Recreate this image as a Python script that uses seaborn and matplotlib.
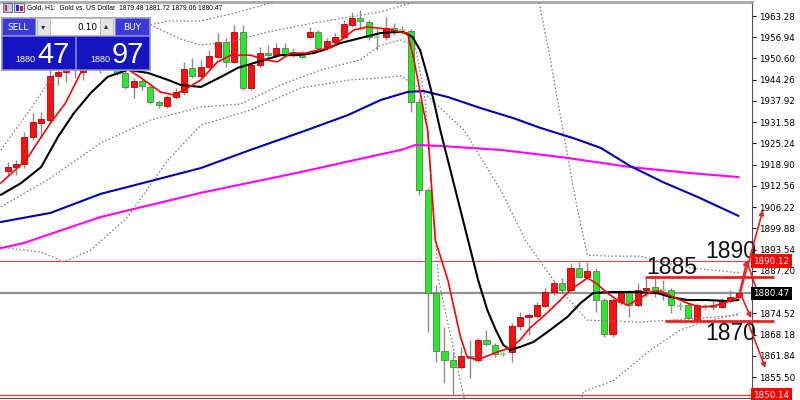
import numpy as np
import pandas as pd
import seaborn as sns
import matplotlib.pyplot as plt
from matplotlib.patches import Rectangle

# H1 candles, bar 0 = left edge of the chart, bar 87 = current bar
opens = [1917.0, 1918.2, 1919.1, 1927.2, 1931.3, 1932.2, 1945.4, 1946.6, 1947.2, 1946.6,
         1947.5, 1949.6, 1949.0, 1950.7, 1946.3, 1942.1, 1943.9, 1942.1, 1937.6, 1936.4,
         1939.1, 1940.6, 1947.8, 1945.4, 1948.1, 1951.0, 1955.5, 1949.6, 1958.5, 1941.8,
         1948.7, 1952.2, 1951.6, 1953.7, 1952.2, 1952.2, 1957.0, 1958.5, 1954.0, 1955.5,
         1957.0, 1960.6, 1962.7, 1961.5, 1957.0, 1957.0, 1959.7, 1959.1, 1958.8, 1937.6,
         1911.3, 1880.6, 1863.3, 1860.6, 1858.5, 1861.8, 1860.6, 1866.6, 1865.1, 1862.4,
         1863.0, 1870.7, 1873.4, 1873.7, 1876.7, 1880.9, 1883.6, 1881.5, 1888.1, 1885.4,
         1887.2, 1878.5, 1868.4, 1877.9, 1880.6, 1877.0, 1881.5, 1882.4, 1881.5, 1881.5,
         1876.7, 1877.0, 1872.5, 1876.7, 1877.0, 1876.4, 1878.5, 1879.48]
highs = [1919.7, 1920.3, 1928.7, 1934.3, 1934.6, 1947.2, 1948.4, 1949.0, 1949.0, 1949.6,
         1951.6, 1951.6, 1952.5, 1951.6, 1947.2, 1944.8, 1944.5, 1942.7, 1938.2, 1939.7,
         1941.8, 1949.6, 1950.7, 1950.2, 1953.1, 1958.2, 1956.7, 1960.6, 1960.6, 1949.3,
         1954.0, 1954.6, 1955.2, 1955.2, 1953.7, 1952.8, 1960.0, 1959.1, 1956.7, 1958.2,
         1962.1, 1964.5, 1965.1, 1962.1, 1960.0, 1963.0, 1961.2, 1960.3, 1959.4, 1938.8,
         1911.9, 1883.0, 1870.4, 1863.0, 1864.5, 1866.6, 1867.2, 1869.6, 1865.7, 1863.0,
         1871.7, 1874.9, 1874.6, 1877.9, 1882.1, 1884.5, 1885.1, 1889.6, 1889.9, 1889.9,
         1888.1, 1879.1, 1879.1, 1881.5, 1881.5, 1883.6, 1885.1, 1885.1, 1884.5, 1882.1,
         1877.9, 1877.6, 1877.6, 1877.3, 1878.5, 1879.1, 1881.5, 1881.72]
lows = [1915.5, 1915.8, 1917.9, 1926.3, 1926.9, 1931.6, 1942.7, 1943.6, 1944.8, 1944.2,
        1947.2, 1946.3, 1948.4, 1945.7, 1941.5, 1938.8, 1941.2, 1937.0, 1935.8, 1935.8,
        1938.5, 1939.7, 1944.8, 1944.8, 1947.8, 1950.7, 1948.1, 1949.3, 1941.2, 1941.2,
        1948.1, 1950.7, 1951.0, 1951.0, 1951.0, 1950.7, 1956.7, 1953.1, 1953.1, 1954.6,
        1956.7, 1960.0, 1959.1, 1956.1, 1953.1, 1956.1, 1957.6, 1957.9, 1934.6, 1909.9,
        1868.9, 1860.0, 1853.7, 1850.14, 1857.9, 1855.2, 1860.0, 1864.8, 1861.5, 1861.8,
        1860.0, 1869.6, 1868.1, 1873.1, 1876.4, 1880.0, 1880.6, 1880.9, 1885.1, 1884.8,
        1874.9, 1867.5, 1867.5, 1877.0, 1873.4, 1876.4, 1879.4, 1879.4, 1878.5, 1874.6,
        1875.5, 1872.5, 1871.9, 1875.8, 1875.5, 1876.1, 1877.6, 1879.06]
closes = [1918.2, 1919.1, 1927.2, 1931.6, 1932.5, 1945.4, 1946.6, 1947.2, 1946.9, 1947.5,
          1949.6, 1949.0, 1950.7, 1946.3, 1942.1, 1943.9, 1942.4, 1937.6, 1936.7, 1939.1,
          1940.6, 1947.5, 1945.4, 1948.1, 1951.3, 1955.5, 1949.6, 1958.5, 1941.8, 1948.7,
          1952.2, 1951.6, 1953.7, 1951.6, 1952.5, 1951.0, 1958.5, 1953.7, 1955.8, 1957.0,
          1960.9, 1962.7, 1961.8, 1957.0, 1956.7, 1959.7, 1958.5, 1958.8, 1937.6, 1911.3,
          1880.6, 1863.3, 1860.6, 1858.5, 1861.8, 1861.2, 1866.6, 1865.4, 1862.4, 1862.2,
          1870.7, 1873.4, 1874.0, 1877.0, 1880.9, 1883.6, 1881.5, 1888.1, 1885.4, 1887.2,
          1878.5, 1868.4, 1878.5, 1880.6, 1877.0, 1881.5, 1882.1, 1881.5, 1881.2, 1877.0,
          1876.6, 1873.1, 1877.0, 1876.6, 1876.4, 1878.5, 1879.4, 1880.47]

# indicator lines (bar position, price)
red_x = [-0.8, 2.2, 5.1, 6.9, 8.7, 11.1, 13.5, 15.9, 18.2, 19.8, 21.4, 23.0, 25.0, 26.6,
         28.9, 30.7, 32.1, 33.7, 35.5, 36.9, 38.4, 40.0, 41.2, 42.8, 45.2, 46.8, 47.6, 48.3,
         48.9, 49.5, 50.0, 50.9, 52.4, 53.9, 54.7, 55.9, 58.3, 59.8, 61.0, 62.2, 64.2, 65.8,
         67.0, 68.2, 69.0, 70.0, 71.4, 72.9, 73.8, 75.3, 76.5, 77.7, 79.2, 80.9, 82.4, 84.0,
         85.6, 87.0]
red_y = [1913.4, 1920.3, 1931.3, 1937.3, 1946.3, 1950.2, 1948.7, 1944.8, 1940.6, 1939.7,
         1941.8, 1944.2, 1949.6, 1951.6, 1951.6, 1950.2, 1949.6, 1952.2, 1952.2, 1953.1,
         1953.7, 1956.7, 1959.1, 1960.0, 1959.4, 1958.5, 1958.2, 1951.0, 1943.3, 1935.2,
         1929.2, 1896.4, 1884.5, 1867.5, 1861.5, 1860.6, 1863.0, 1864.2, 1866.6, 1870.2,
         1874.6, 1878.5, 1881.5, 1883.6, 1885.1, 1883.6, 1880.6, 1877.9, 1877.0, 1879.1,
         1880.9, 1881.2, 1879.4, 1877.6, 1876.4, 1876.7, 1877.9, 1879.4]
black_x = [-0.8, 1.6, 4.0, 6.0, 7.9, 9.9, 11.9, 14.3, 16.7, 19.1, 20.6, 23.0, 25.4, 27.4,
           29.8, 32.5, 34.5, 36.4, 37.6, 39.6, 42.0, 44.4, 46.4, 47.1, 48.2, 49.1, 50.0,
           50.7, 51.5, 53.9, 56.0, 57.1, 58.1, 59.0, 59.8, 61.0, 62.6, 64.6, 66.6, 68.2,
           69.7, 72.1, 74.5, 77.3, 78.9, 80.9, 83.3, 85.6, 87.0]
black_y = [1909.9, 1913.4, 1918.2, 1927.2, 1934.3, 1940.3, 1945.1, 1947.2, 1946.3, 1944.2,
           1942.7, 1942.1, 1945.1, 1947.8, 1949.6, 1951.6, 1951.6, 1952.2, 1953.1, 1955.2,
           1956.7, 1958.2, 1958.5, 1958.5, 1957.0, 1953.1, 1945.1, 1938.2, 1929.2, 1905.4,
           1884.5, 1875.5, 1869.6, 1865.1, 1863.6, 1864.5, 1866.0, 1869.6, 1873.4, 1877.6,
           1880.6, 1880.9, 1880.9, 1880.6, 1879.4, 1878.5, 1878.5, 1878.2, 1878.5]
blue_x = [-0.8, 5.1, 11.1, 17.0, 23.0, 28.9, 35.7, 40.5, 44.4, 47.6, 49.5, 52.4, 56.3, 60.2,
          63.4, 67.6, 70.6, 74.1, 78.0, 82.1, 87.0]
blue_y = [1901.8, 1904.5, 1910.2, 1914.0, 1917.9, 1923.3, 1929.3, 1933.7, 1938.2, 1940.6,
          1940.9, 1939.1, 1935.8, 1932.8, 1929.9, 1926.6, 1923.9, 1918.5, 1913.7, 1909.3,
          1903.6]
magenta_x = [-0.8, 1.9, 11.1, 23.0, 34.9, 40.8, 46.8, 48.6, 51.5, 58.7, 65.8, 74.1, 81.2, 87.0]
magenta_y = [1894.0, 1895.5, 1903.3, 1910.5, 1916.7, 1920.0, 1923.3, 1924.8, 1924.5, 1923.3,
             1921.2, 1918.2, 1916.4, 1915.2]

# dotted envelope lines (gaps where they leave the chart)
upper_a_x = [-0.8, 2.8, 6.3, 11.1, 17.0, 20.6, 23.0, 26.6, 30.4, 36.4, 44.4, 48.0, 49.1]
upper_a_y = [1923.3, 1935.8, 1948.7, 1956.1, 1960.6, 1956.4, 1954.6, 1955.5, 1958.2, 1961.2,
             1964.5, 1967.2, 1969.6]
upper_b_x = [63.1, 64.6, 66.1, 67.6, 69.0, 71.7, 75.3, 77.7, 81.6, 87.2]
upper_b_y = [1969.6, 1950.2, 1929.3, 1908.4, 1891.9, 1891.6, 1891.6, 1889.9, 1888.0, 1886.6]
upper_c_x = [17.0, 19.1, 23.0, 26.6, 30.1, 32.5, 33.1]
upper_c_y = [1960.6, 1961.8, 1961.8, 1963.9, 1966.3, 1968.1, 1969.0]
lower_a_x = [-0.8, 5.1, 11.1, 17.0, 23.0, 27.7, 32.5, 37.3, 42.0, 44.4, 46.8, 48.5, 49.7,
             50.6, 51.3, 54.3, 54.6]
lower_a_y = [1906.3, 1914.9, 1925.4, 1932.2, 1936.1, 1937.0, 1942.7, 1947.2, 1950.2, 1954.6,
             1956.1, 1954.6, 1938.2, 1908.4, 1884.5, 1849.6, 1845.7]
lower_b_x = [68.2, 68.5, 72.2, 76.5, 80.1, 82.4, 87.2]
lower_b_y = [1847.2, 1851.1, 1854.6, 1863.6, 1869.6, 1871.6, 1874.6]
outer_x = [-0.8, 4.0, 6.7, 9.9, 14.3, 19.1, 23.0, 28.9, 34.9, 40.8, 44.4, 46.8, 48.8, 54.3,
           58.7, 61.6, 65.8, 69.0, 75.3, 82.4, 87.2]
outer_y = [1894.3, 1892.8, 1889.9, 1893.4, 1903.3, 1920.3, 1930.7, 1935.2, 1941.8, 1944.2,
           1944.8, 1945.4, 1942.1, 1929.3, 1911.3, 1896.4, 1881.5, 1872.5, 1871.9, 1873.1,
           1874.0]

price_ticks = [1963.28, 1956.94, 1950.60, 1944.26, 1937.92, 1931.58, 1925.24, 1918.90,
               1912.56, 1906.22, 1899.88, 1893.54, 1887.20, 1874.52, 1868.18, 1861.84, 1855.50]
bid = 1880.47
day_high_line = 1890.12
day_low_line = 1850.14

# hand drawn levels, labels and arrows
level_lines = [(1885.3, 75.9), (1872.1, 78.3)]
level_labels = [('1890', 86.1, 1893.1), ('1885', 79.1, 1888.1), ('1870', 86.1, 1868.4)]
arrows = [((87.0, 1878.8), (89.9, 1905.4)),
          ((87.2, 1881.5), (88.0, 1890.4)),
          ((88.0, 1889.9), (89.6, 1878.5)),
          ((87.3, 1880.0), (88.5, 1873.1)),
          ((88.1, 1871.9), (90.2, 1858.2))]

sns.set_style('white')
plt.rcParams['font.family'] = ['DejaVu Sans']

fig = plt.figure(figsize=(8, 4), dpi=100)
ax = fig.add_axes([0, 0.005, 0.94, 0.99])
ax.set_xlim(-0.8, 88.6)
ax.set_ylim(1849.26, 1967.46)

# reference lines
ax.axhline(bid, color='#909090', lw=1.6, zorder=1)
ax.axhline(day_high_line, color='#f04040', lw=0.8, zorder=1)
ax.axhline(day_low_line, color='#f04040', lw=1.0, zorder=1)

# candles
for i in range(len(opens)):
    o, h, l, c = opens[i], highs[i], lows[i], closes[i]
    ax.vlines(i, l, h, color='#8c8c8c', lw=1, zorder=3)
    if abs(c - o) < 0.3:
        ax.hlines(o, i - 0.36, i + 0.36, color='#80e080' if c < o else '#606060', lw=1.2, zorder=4)
        continue
    up = c > o
    ax.add_patch(Rectangle((i - 0.36, min(o, c)), 0.72, abs(c - o),
                           facecolor='#ff1010' if up else '#22ee22',
                           edgecolor='#b00000' if up else '#707070', lw=0.6, zorder=4))

# dotted bands
for xs, ys in [(upper_a_x, upper_a_y), (upper_b_x, upper_b_y), (upper_c_x, upper_c_y),
               (lower_a_x, lower_a_y), (lower_b_x, lower_b_y), (outer_x, outer_y)]:
    ax.plot(xs, ys, color='#7a7a7a', lw=0.9, ls=(0, (1.2, 1.8)), zorder=5)

# moving averages
lines = pd.concat([
    pd.DataFrame({'bar': magenta_x, 'price': magenta_y, 'ma': 'slow'}),
    pd.DataFrame({'bar': blue_x, 'price': blue_y, 'ma': 'mid'}),
    pd.DataFrame({'bar': black_x, 'price': black_y, 'ma': 'black'}),
    pd.DataFrame({'bar': red_x, 'price': red_y, 'ma': 'fast'}),
])
palette = {'slow': '#ff00ff', 'mid': '#0000b4', 'black': '#000000', 'fast': '#ff0000'}
sns.lineplot(data=lines, x='bar', y='price', hue='ma', palette=palette, estimator=None,
             sort=False, lw=1.5, legend=False, ax=ax, zorder=6)
ax.lines[-1].set_linewidth(1.2)

# levels drawn by hand
for lvl, start in level_lines:
    ax.hlines(lvl, start, 91.2, color='#ee2020', lw=2, zorder=7, clip_on=False)
for txt, bx, py in level_labels:
    ax.text(bx, py, txt, fontsize=16.5, family=['Liberation Sans', 'DejaVu Sans'],
            ha='center', va='center', color='#101010', zorder=8, clip_on=False)
for (x0, y0), (x1, y1) in arrows:
    ax.annotate('', xy=(x1, y1), xytext=(x0, y0), annotation_clip=False, zorder=8,
                arrowprops=dict(arrowstyle='-|>', color='#ee2020', lw=1.2, mutation_scale=7,
                                shrinkA=0, shrinkB=0))

# axes styling
ax.yaxis.tick_right()
ax.set_yticks(price_ticks)
ax.set_yticklabels([f'{v:.2f}' for v in price_ticks])
ax.tick_params(axis='y', direction='out', length=3, width=0.8, labelsize=6.3, pad=2,
               colors='#000000', right=True, left=False)
ax.set_xticks(np.arange(-0.9, 89, 8.0))
ax.set_xticklabels([])
ax.tick_params(axis='x', direction='out', length=3, width=0.8, colors='#303030')
ax.spines['left'].set_visible(False)
ax.spines['right'].set_color('#505050')
ax.spines['bottom'].set_color('#505050')
ax.spines['top'].set_color('#a8a8a8')
ax.spines['top'].set_linewidth(2)
ax.set_xlabel('')
ax.set_ylabel('')

# price tags on the scale
tag = ax.get_yaxis_transform()
for v, bg in [(day_high_line, '#ff0000'), (bid, '#000000'), (day_low_line, '#ff0000')]:
    ax.text(1.002, v, f'{v:.2f}', transform=tag, fontsize=6.3, color='white', va='center',
            ha='left', zorder=9, clip_on=False,
            bbox=dict(boxstyle='square,pad=0.25', facecolor=bg, edgecolor='none'))

# overlay in pixel units: title and one-click trading panel
ov = fig.add_axes([0, 0, 1, 1], zorder=10)
ov.set_xlim(0, 800)
ov.set_ylim(400, 0)
ov.axis('off')
ov.patch.set_alpha(0)
ov.add_patch(Rectangle((3, 3), 9, 9, facecolor='#c8c8e8', edgecolor='#5050a0', lw=0.6))
ov.add_patch(Rectangle((5, 5), 2, 6, facecolor='#d02020', lw=0))
ov.add_patch(Rectangle((14, 3), 10, 9, facecolor='#e0e0f0', edgecolor='#5050a0', lw=0.6))
ov.add_patch(Rectangle((16, 5), 3, 6, facecolor='#2030c0', lw=0))
ov.add_patch(Rectangle((20, 6), 3, 5, facecolor='#d02020', lw=0))
ov.text(27, 8, 'Gold, H1:  Gold vs. US Dollar  1879.48 1881.72 1879.06 1880.47',
        fontsize=4.9, va='center', ha='left', color='#000000',
        family=['Liberation Sans', 'DejaVu Sans'])

ov.add_patch(Rectangle((1, 17), 149, 53, facecolor='#d8d8d8', edgecolor='#a0a0a0', lw=0.6))
for x0, w in [(2, 33), (115, 34)]:
    ov.add_patch(Rectangle((x0, 18), w, 17, facecolor='#3a3ad6', edgecolor='#8080e0', lw=0.6))
ov.add_patch(Rectangle((37, 18), 13, 17, facecolor='#e4e4e4', edgecolor='#b0b0b0', lw=0.5))
ov.add_patch(Rectangle((50, 18), 50, 17, facecolor='#ffffff', edgecolor='#b0b0b0', lw=0.5))
ov.add_patch(Rectangle((100, 18), 13, 17, facecolor='#e4e4e4', edgecolor='#b0b0b0', lw=0.5))
ov.text(18.5, 27, 'SELL', fontsize=6.5, color='white', ha='center', va='center')
ov.text(132, 27, 'BUY', fontsize=6.5, color='white', ha='center', va='center')
ov.text(43.5, 27, '\u25be', fontsize=6, color='#303030', ha='center', va='center')
ov.text(106.5, 26, '\u25b4', fontsize=6, color='#303030', ha='center', va='center')
ov.text(97, 27, '0.10', fontsize=6.5, color='#000000', ha='right', va='center')
for x0, w in [(2, 73), (76, 73)]:
    ov.add_patch(Rectangle((x0, 36), w, 33, facecolor='#1414c0', edgecolor='#7070d8', lw=0.6))
big = ['Liberation Sans', 'DejaVu Sans']
ov.text(35, 62, '1880', fontsize=6.5, color='white', ha='right', va='baseline', family=big)
ov.text(37, 63, '47', fontsize=21, color='white', ha='left', va='baseline', family=big)
ov.text(110, 62, '1880', fontsize=6.5, color='white', ha='right', va='baseline', family=big)
ov.text(112, 63, '97', fontsize=21, color='white', ha='left', va='baseline', family=big)

fig.savefig('out.png', dpi=100)
